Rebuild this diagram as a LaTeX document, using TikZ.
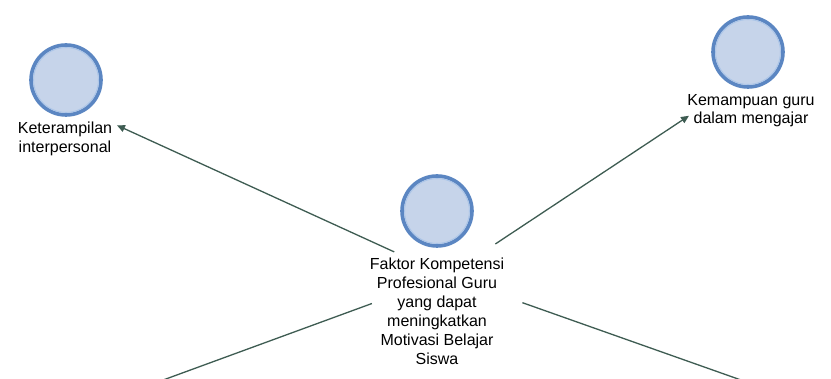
\documentclass[tikz,border=0pt]{standalone}
\usepackage{fontspec}
\setmainfont{Liberation Sans}
\usetikzlibrary{arrows.meta}
\definecolor{ringc}{HTML}{5B86C2}
\definecolor{fillc}{HTML}{C6D4EA}
\definecolor{innerc}{HTML}{A9C4E8}
\definecolor{linec}{HTML}{3E5C52}
\tikzset{
  bubble/.style={circle, draw=ringc, line width=3.6pt, fill=fillc, minimum size=70pt, inner sep=0pt},
  lbl/.style={align=center, inner sep=0pt, font=\fontsize{16pt}{18.5pt}\selectfont, text=black},
  conn/.style={draw=linec, line width=1.3pt, -{Triangle[length=8pt,width=7pt]}}
}
\begin{document}
\begin{tikzpicture}[x=1pt,y=-1pt]
\useasboundingbox (0,0) rectangle (831,379);
\clip (0,0) rectangle (831,379);
\fill[white] (0,0) rectangle (831,379);
% bubbles
\node[bubble] (cL) at (66,80) {};
\node[bubble] (cR) at (748,52) {};
\node[bubble] (cC) at (437,211) {};
\foreach \c in {cL,cR,cC}{\draw[innerc, line width=0.8pt] (\c.center) circle (32.4pt);}
% labels
\node[lbl, anchor=north] (tL) at (65,122) {Keterampilan\\interpersonal};
\node[lbl, anchor=north] (tR) at (751,94) {Kemampuan guru\\dalam mengajar};
\node[lbl, anchor=north, font=\fontsize{16pt}{19pt}\selectfont] (tC) at (437,258) {Faktor Kompetensi\\Profesional Guru\\yang dapat\\meningkatkan\\Motivasi Belajar\\Siswa};
% group reference points
\coordinate (hub) at (447,276);
\coordinate (gL) at (66,102);
\coordinate (gR) at (749,76);
\coordinate (gBL) at (54,420);
\coordinate (gBR) at (854,420);
% connectors
\draw[conn, shorten <=58pt, shorten >=56pt] (hub) -- (gL);
\draw[conn, shorten <=58pt, shorten >=72pt] (hub) -- (gR);
\draw[conn, shorten <=80pt] (hub) -- (gBL);
\draw[conn, shorten <=80pt] (hub) -- (gBR);
\end{tikzpicture}
\end{document}
